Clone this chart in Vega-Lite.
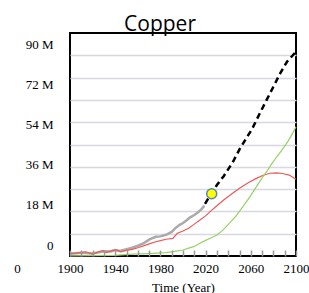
{
  "$schema": "https://vega.github.io/schema/vega-lite/v6.json",
  "width": 226,
  "height": 223,
  "autosize": "none",
  "padding": {"left": 70, "top": 33, "right": 13, "bottom": 37},
  "background": "white",
  "title": {"text": "Copper", "font": "Open Sans", "fontSize": 21, "fontWeight": "normal", "color": "black", "anchor": "middle", "frame": "group", "dx": -23, "dy": 24, "baseline": "alphabetic", "offset": 5},
  "config": {
    "view": {"stroke": "black", "strokeWidth": 2},
    "axis": {"labelFont": "Liberation Serif", "titleFont": "Liberation Serif", "labelColor": "black", "titleColor": "black", "labelFontSize": 13, "titleFontSize": 13, "titleFontWeight": "normal", "domain": false}
  },
  "datasets": {
    "lines": [
      {"series": "hist", "year": 1900, "value": 1.0},
      {"series": "hist", "year": 1910, "value": 1.5},
      {"series": "hist", "year": 1920, "value": 1.1},
      {"series": "hist", "year": 1930, "value": 2.1},
      {"series": "hist", "year": 1936, "value": 2.0},
      {"series": "hist", "year": 1940, "value": 2.7},
      {"series": "hist", "year": 1944, "value": 2.3},
      {"series": "hist", "year": 1950, "value": 3.0},
      {"series": "hist", "year": 1955, "value": 3.7},
      {"series": "hist", "year": 1960, "value": 4.6},
      {"series": "hist", "year": 1965, "value": 5.7},
      {"series": "hist", "year": 1970, "value": 7.3},
      {"series": "hist", "year": 1974, "value": 8.2},
      {"series": "hist", "year": 1976, "value": 8.6},
      {"series": "hist", "year": 1980, "value": 8.8},
      {"series": "hist", "year": 1985, "value": 9.5},
      {"series": "hist", "year": 1990, "value": 10.8},
      {"series": "hist", "year": 1993, "value": 12.4},
      {"series": "hist", "year": 1997, "value": 14.0},
      {"series": "hist", "year": 2000, "value": 14.8},
      {"series": "hist", "year": 2003, "value": 15.9},
      {"series": "hist", "year": 2006, "value": 17.2},
      {"series": "hist", "year": 2010, "value": 18.4},
      {"series": "hist", "year": 2013, "value": 19.5},
      {"series": "hist", "year": 2016, "value": 20.8},
      {"series": "hist", "year": 2019, "value": 22.6},
      {"series": "model", "year": 1900, "value": 1.2},
      {"series": "model", "year": 1905, "value": 1.3},
      {"series": "model", "year": 1910, "value": 1.6},
      {"series": "model", "year": 1914, "value": 1.9},
      {"series": "model", "year": 1920, "value": 0.9},
      {"series": "model", "year": 1925, "value": 1.8},
      {"series": "model", "year": 1929, "value": 2.4},
      {"series": "model", "year": 1932, "value": 1.5},
      {"series": "model", "year": 1937, "value": 2.4},
      {"series": "model", "year": 1941, "value": 2.7},
      {"series": "model", "year": 1945, "value": 1.9},
      {"series": "model", "year": 1950, "value": 2.5},
      {"series": "model", "year": 1955, "value": 3.0},
      {"series": "model", "year": 1960, "value": 3.7},
      {"series": "model", "year": 1967, "value": 4.9},
      {"series": "model", "year": 1972, "value": 5.8},
      {"series": "model", "year": 1976, "value": 6.4},
      {"series": "model", "year": 1980, "value": 6.9},
      {"series": "model", "year": 1985, "value": 7.5},
      {"series": "model", "year": 1991, "value": 7.9},
      {"series": "model", "year": 1995, "value": 10.2},
      {"series": "model", "year": 2000, "value": 11.2},
      {"series": "model", "year": 2005, "value": 12.4},
      {"series": "model", "year": 2010, "value": 14.3},
      {"series": "model", "year": 2015, "value": 16.1},
      {"series": "model", "year": 2020, "value": 18.0},
      {"series": "model", "year": 2024, "value": 19.9},
      {"series": "model", "year": 2030, "value": 22.5},
      {"series": "model", "year": 2036, "value": 25.1},
      {"series": "model", "year": 2043, "value": 27.8},
      {"series": "model", "year": 2050, "value": 30.4},
      {"series": "model", "year": 2058, "value": 33.0},
      {"series": "model", "year": 2065, "value": 34.8},
      {"series": "model", "year": 2071, "value": 36.2},
      {"series": "model", "year": 2077, "value": 37.1},
      {"series": "model", "year": 2083, "value": 37.3},
      {"series": "model", "year": 2088, "value": 37.0},
      {"series": "model", "year": 2094, "value": 36.3},
      {"series": "model", "year": 2100, "value": 34.4},
      {"series": "green", "year": 1900, "value": 0.1},
      {"series": "green", "year": 1920, "value": 0.2},
      {"series": "green", "year": 1940, "value": 0.3},
      {"series": "green", "year": 1955, "value": 0.8},
      {"series": "green", "year": 1970, "value": 1.1},
      {"series": "green", "year": 1985, "value": 1.5},
      {"series": "green", "year": 1995, "value": 2.3},
      {"series": "green", "year": 2000, "value": 2.7},
      {"series": "green", "year": 2005, "value": 3.5},
      {"series": "green", "year": 2010, "value": 4.3},
      {"series": "green", "year": 2015, "value": 5.7},
      {"series": "green", "year": 2020, "value": 7.0},
      {"series": "green", "year": 2025, "value": 8.2},
      {"series": "green", "year": 2030, "value": 9.4},
      {"series": "green", "year": 2035, "value": 11.5},
      {"series": "green", "year": 2041, "value": 14.6},
      {"series": "green", "year": 2047, "value": 18.0},
      {"series": "green", "year": 2053, "value": 22.1},
      {"series": "green", "year": 2059, "value": 26.4},
      {"series": "green", "year": 2065, "value": 31.1},
      {"series": "green", "year": 2070, "value": 35.0},
      {"series": "green", "year": 2074, "value": 37.8},
      {"series": "green", "year": 2078, "value": 41.0},
      {"series": "green", "year": 2083, "value": 44.5},
      {"series": "green", "year": 2088, "value": 47.8},
      {"series": "green", "year": 2093, "value": 51.5},
      {"series": "green", "year": 2097, "value": 55.0},
      {"series": "green", "year": 2100, "value": 58.0},
      {"series": "proj", "year": 2019.5, "value": 23.4},
      {"series": "proj", "year": 2025, "value": 28.0},
      {"series": "proj", "year": 2030, "value": 31.8},
      {"series": "proj", "year": 2036, "value": 35.8},
      {"series": "proj", "year": 2044, "value": 42.0},
      {"series": "proj", "year": 2050, "value": 47.8},
      {"series": "proj", "year": 2055, "value": 52.0},
      {"series": "proj", "year": 2061, "value": 56.8},
      {"series": "proj", "year": 2068, "value": 64.0},
      {"series": "proj", "year": 2074, "value": 70.0},
      {"series": "proj", "year": 2080, "value": 75.9},
      {"series": "proj", "year": 2086, "value": 81.9},
      {"series": "proj", "year": 2092, "value": 87.1},
      {"series": "proj", "year": 2100, "value": 91.6}
    ],
    "point": [{"year": 2025.4, "value": 27.9}],
    "decades": [
      {"year": 1910}, {"year": 1920}, {"year": 1930}, {"year": 1940}, {"year": 1950},
      {"year": 1960}, {"year": 1970}, {"year": 1980}, {"year": 1990}, {"year": 2000},
      {"year": 2010}, {"year": 2020}, {"year": 2030}, {"year": 2040}, {"year": 2050},
      {"year": 2060}, {"year": 2070}, {"year": 2080}, {"year": 2090}
    ]
  },
  "encoding": {
    "x": {"field": "year", "type": "quantitative", "scale": {"domain": [1900, 2100], "nice": false, "zero": false},
      "axis": {"values": [1900,1910,1920,1930,1940,1950,1960,1970,1980,1990,2000,2010,2020,2030,2040,2050,2060,2070,2080,2090,2100],
        "labelExpr": "format(datum.value, 'd')",
        "labelOpacity": {"condition": {"test": "(datum.value - 1900) % 40 === 0", "value": 1}, "value": 0},
        "offset": -6, "ticks": true, "tickSize": 6, "tickColor": "#999999", "tickWidth": 1.5, "tickOpacity": 1, "zindex": 1,
        "grid": false, "labelPadding": 12, "labelBaseline": "middle", "labelFlush": false, "labelOverlap": false,
        "title": "Time (Year)", "titlePadding": 6}},
    "y": {"field": "value", "type": "quantitative", "scale": {"domain": [0, 100], "nice": false},
      "axis": {"values": [0,10,18,20,30,36,40,50,54,60,70,72,80,90],
        "labelExpr": "datum.value === 0 ? '0' : datum.value + ' M'",
        "labelOpacity": {"condition": {"test": "datum.value % 18 === 0", "value": 1}, "value": 0},
        "grid": true, "gridColor": "#d8d8e2", "gridWidth": 1.5,
        "gridOpacity": {"condition": {"test": "datum.value % 10 === 0 && datum.value > 0", "value": 1}, "value": 0},
        "ticks": false, "labelPadding": 17, "labelOffset": -11, "labelOverlap": false, "labelFlush": false,
        "title": "0", "titleAngle": 0, "titleX": -53, "titleY": 235, "titleBaseline": "middle", "titleAlign": "center"}}
  },
  "layer": [
    {"data": {"name": "decades"},
     "mark": {"type": "tick", "orient": "vertical", "size": 6, "thickness": 1.5, "color": "#b4b4b4", "opacity": 1, "yOffset": -3},
     "encoding": {"y": {"datum": 0, "type": "quantitative"}}},
    {"data": {"name": "lines"}, "transform": [{"filter": "datum.series === 'hist'"}],
     "mark": {"type": "line", "color": "#aaaaaa", "strokeWidth": 2.5}},
    {"data": {"name": "lines"}, "transform": [{"filter": "datum.series === 'model'"}],
     "mark": {"type": "line", "color": "#f05858", "strokeWidth": 1.2}},
    {"data": {"name": "lines"}, "transform": [{"filter": "datum.series === 'green'"}],
     "mark": {"type": "line", "color": "#99d066", "strokeWidth": 1.2}},
    {"data": {"name": "lines"}, "transform": [{"filter": "datum.series === 'proj'"}],
     "mark": {"type": "line", "color": "black", "strokeWidth": 2.5, "strokeDash": [6, 4]}},
    {"data": {"name": "point"},
     "mark": {"type": "point", "filled": true, "fill": "#ffff00", "stroke": "#5b86b5", "strokeWidth": 1.5, "size": 100, "opacity": 1}}
  ]
}
